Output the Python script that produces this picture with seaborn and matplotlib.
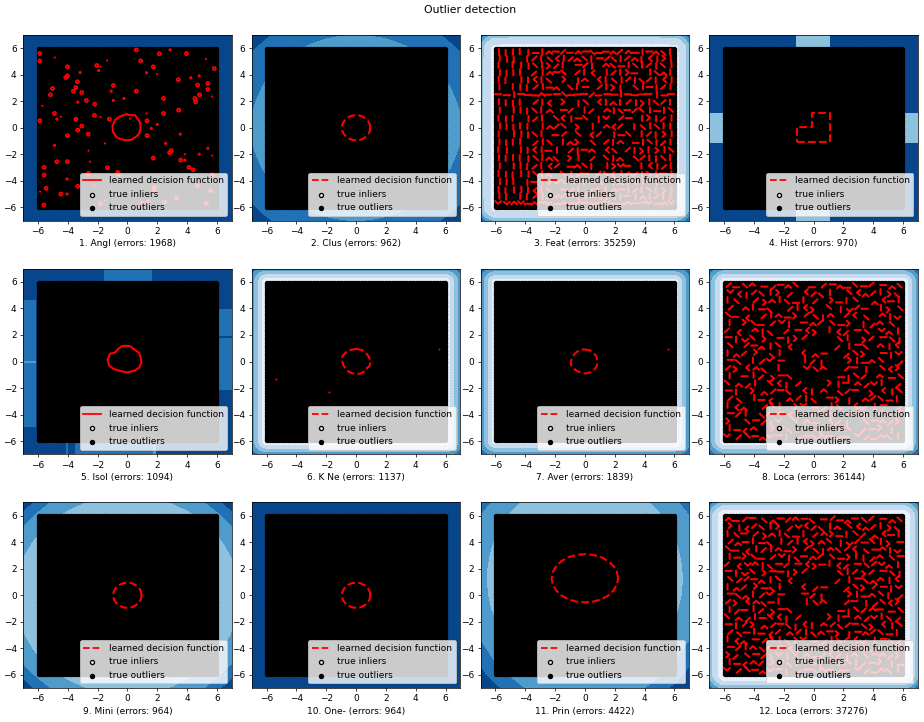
import numpy as np
import matplotlib
matplotlib.use('Agg')
import matplotlib.pyplot as plt
from matplotlib.lines import Line2D
import seaborn as sns

labels = ['1. Angl (errors: 1968)', '2. Clus (errors: 962)', '3. Feat (errors: 35259)', '4. Hist (errors: 970)',
          '5. Isol (errors: 1094)', '6. K Ne (errors: 1137)', '7. Aver (errors: 1839)', '8. Loca (errors: 36144)',
          '9. Mini (errors: 964)', '10. One- (errors: 964)', '11. Prin (errors: 4422)', '12. Loca (errors: 37276)']
solid_panels = [0, 4]
legend_labels = ['learned decision function', 'true inliers', 'true outliers']
tick_values = [-6, -4, -2, 0, 2, 4, 6]

# outliers fill the square, inliers sit in the middle
outlier_axis = [-5.95, -5.8, -5.6, -5.4, -5.2, -5.0, -4.8, -4.6, -4.4, -4.2, -4.0, -3.8, -3.6, -3.4, -3.2, -3.0, -2.8, -2.6, -2.4, -2.2,
                -2.0, -1.8, -1.6, -1.4, -1.2, -1.0, -0.8, -0.6, -0.4, -0.2, 0.0, 0.2, 0.4, 0.6, 0.8, 1.0, 1.2, 1.4, 1.6, 1.8,
                2.0, 2.2, 2.4, 2.6, 2.8, 3.0, 3.2, 3.4, 3.6, 3.8, 4.0, 4.2, 4.4, 4.6, 4.8, 5.0, 5.2, 5.4, 5.6, 5.8, 5.95]
inlier_x = [0.0, 0.4, -0.4, 0.2, -0.2]
inlier_y = [0.0, 0.3, -0.3, -0.5, 0.5]

# decision outlines
circle_x = [.95, .92, .82, .67, .47, .25, 0, -.25, -.47, -.67, -.82, -.92, -.95, -.92, -.82, -.67, -.47, -.25, 0, .25, .47, .67, .82, .92, .95]
circle_y = [0, .25, .47, .67, .82, .92, .95, .92, .82, .67, .47, .25, 0, -.25, -.47, -.67, -.82, -.92, -.95, -.92, -.82, -.67, -.47, -.25, 0]
angl_x = [-.09, .18, .51, .67, .85, .89, .80, .63, .29, -.09, -.49, -.76, -.96, -1.0, -.83, -.54, -.27, -.09]
angl_y = [1.03, .95, .95, .70, .40, 0, -.43, -.63, -.90, -.95, -.85, -.68, -.30, .15, .58, .83, .95, 1.03]
hist_x = [-1.12, 1.07, 1.07, -.11, -.11, -1.12, -1.12]
hist_y = [-1.06, -1.06, 1.08, 1.08, .08, .08, -1.06]
isol_x = [-.13, .18, .51, .80, .89, .94, .80, .51, 0, -.49, -.94, -1.23, -1.32, -1.16, -.83, -.60, -.38, -.13]
isol_y = [1.18, 1.16, .88, .63, .30, -.08, -.45, -.68, -.83, -.71, -.55, -.30, .13, .58, .68, .96, 1.16, 1.18]
knn_x = [0, .35, .65, .85, .98, .9, .72, .62, .3, 0, -.3, -.62, -.85, -.95, -.9, -.65, -.35, 0]
knn_y = [.95, .88, .68, .35, .02, -.35, -.5, -.72, -.9, -.95, -.88, -.68, -.3, .1, .45, .72, .88, .95]
aver_x = [-.05, .3, .6, .78, .85, .8, .65, .4, .1, -.2, -.55, -.8, -.95, -.9, -.75, -.55, -.3, -.05]
aver_y = [.92, .85, .65, .35, 0, -.35, -.6, -.8, -.9, -.88, -.7, -.5, -.2, .15, .5, .72, .88, .92]
prin_x = [2.23, 2.15, 1.93, 1.58, 1.12, .58, 0, -.58, -1.12, -1.58, -1.93, -2.15, -2.23, -2.15, -1.93, -1.58, -1.12, -.58, 0, .58, 1.12, 1.58, 1.93, 2.15, 2.23]
prin_y = [1.28, 1.75, 2.19, 2.57, 2.86, 3.04, 3.10, 3.04, 2.86, 2.57, 2.19, 1.75, 1.28, .81, .37, -.01, -.30, -.48, -.54, -.48, -.30, -.01, .37, .81, 1.28]
outlines = {0: (angl_x, angl_y), 1: (circle_x, circle_y), 3: (hist_x, hist_y), 4: (isol_x, isol_y), 5: (knn_x, knn_y),
            6: (aver_x, aver_y), 8: (circle_x, circle_y), 9: (circle_x, circle_y), 10: (prin_x, prin_y)}

# red spots of panel 1, three sizes
big_x = [-5.87, -5.87, .60, -4.02, -2.05, .89, 2.14, 3.97, 1.74, 5.83, -4.13, -4.02, -3.35, 3.42, -.94, -3.46, -3.62, -3.06, -5.02, -5.16,
         .60, 2.43, 4.53, 4.58, 4.84, 5.40, 5.40, 4.71, -2.75, -2.19, 3.44, 2.43, -4.89, -2.21, -1.21, -3.46, -5.87, 1.32, -3.06, -3.33,
         -2.63, -4.02, 1.32, 2.95, 2.83, 1.74, -4.73, -4.02, 3.57, -5.58, -1.34, 4.13, 4.42, -5.58, -2.61, -.65, -5.45, -4.46, -3.33, -5.6,
         -1.8, 3.3, 2.5, 1.8, 1.8, 5.6, 5.3, 1.0, 1.4, -.6, 4.7, 5.7]
big_y = [5.60, 5.03, 5.88, 4.60, 4.70, 5.05, 5.58, 5.60, 4.60, 4.47, 3.79, 3.92, 3.47, 3.62, 3.19, 3.04, 2.76, 2.66, 2.96, 2.49,
         2.76, 2.21, 2.21, 1.96, 2.49, 2.89, 3.34, 3.22, 2.06, 1.78, 1.33, 1.08, 1.08, .93, .65, .65, .53, .53, .13, -.18,
         -.48, -.60, -.60, -1.73, -1.88, -2.29, -2.56, -2.56, -2.44, -2.99, -3.02, -2.99, -3.17, -3.57, -3.44, -3.37, -4.57, -5.0, -4.42, -5.83,
         -5.72, -5.3, -5.6, -4.5, -4.8, -4.75, -5.7, -5.7, -5.6, -3.5, -4.4, -3.55]
mid_x = [2.86, -1.92, 1.29, -3.17, 4.26, 4.82, -1.09, -.22, -.94, -3.33, -4.73, 2.0, 1.61, 3.55, -4.89, 2.57, 4.82, 5.4, 3.86, -4.04, -4.04]
mid_y = [5.88, 4.32, 4.15, 4.17, 3.77, 3.92, 2.76, 2.21, 2.06, 1.93, .65, .25, -.05, -.48, -1.33, -1.18, -2.0, -1.56, -2.44, -3.87, -5.0]
small_x = [-4.87, -1.36, 5.27, -1.79, 2.0, -5.71, 5.67, 1.29, -4.46, -1.79, .18, -1.5, -2.61, 3.86, 5.69, -2.5, -5.85, -2.25, -1.5]
small_y = [5.3, 5.08, 5.18, 4.6, 4.05, 1.66, 2.36, 1.08, .83, .8, .7, -1.18, -1.73, -2.0, -2.1, -2.56, -4.82, -4.4, -5.5]
spots6_x = [5.55, -5.35, -1.8]
spots6_y = [.95, -1.3, -2.3]
spots7_x = [5.6]
spots7_y = [.95]

# short red strokes of panels 3, 8, 12, top row first, one letter per stroke
# h flat, v upright, a rising, d falling, c e u n bent, . nothing
stroke_axis = [-5.7, -5.13, -4.56, -3.99, -3.42, -2.85, -2.28, -1.71, -1.14, -.57, 0, .57, 1.14, 1.71, 2.28, 2.85, 3.42, 3.99, 4.56, 5.13, 5.7]
feat_x_axis = [-5.76, -5.28, -4.8, -4.32, -3.84, -3.36, -2.88, -2.4, -1.92, -1.44, -.96, -.48, 0, .48, .96, 1.44, 1.92, 2.4, 2.88, 3.36, 3.84, 4.32, 4.8, 5.28, 5.76]
feat_y_axis = [5.7, 5.2, 4.7, 4.15, 3.6, 3.05, 2.5, 1.9, 1.3, .7, .1, -.5, -1.1, -1.7, -2.3, -2.9, -3.5, -4.1, -4.7, -5.2, -5.7]
feat_rows = ["vvvvvhvnhahnhdhhnanhvhndv", "vvv.vavdcvandvhadvanvcvev", "v.vvvdveav.hav.ndhvdvavdv",
             "vvvv.avnhd.avc.vaveh.vdnv", "vv.vvcvd.e.vn.cvdvavdavcv", "v.vvvavhn.dvh.avev.dvhvav",
             "hhvhhhnhhdhhhahhhvhhhhvhh", "vvvv.avc.e.vd.cvnvavevdav", "v.vvvdvn.ha.va.nvdhadvhvd",
             "vvv.vav.dcvhd.vu.ah.vevav", "vvvvv.vnad.e.v.nca.vdvdvv", "v.vvvdv.ha.d.ca.vhd.vavev",
             "vvvv.avd.vne.d.avn.hvdvav", "vv.vvcvhv.avhn.cd.avevevd", "vvvvvdvnd.ev.a.dvn.davvdv",
             "v.vvvavca.hndv.veuh.vcvav", "vvvvvdvn.dvah.adcvnavdvhv", "vvv.vhvaud.nvhd.vnvdvhvav",
             "vvvvvcvd.hav.aevnhvavdvev", "vv.vvavnuahdvhcvdvhvnvavv", "uunuhnhuhnhahnhuhhnhhuhnu"]
loca8_rows = ["ahdnhahnd.hahnhdhahnd", "ucvadvea.cadv.dcnaved", "vd.aenvdhva.ehvd.nchv",
              "a.nvhd.avce.dvuah.ved", "dhc.avnheadvn.acd.nvu", "v.edhauv.hnadhe.vand.",
              "ac.nvd.ahce.vcahd.unv", "hvude.hvea...dv.eahdv", "d.ahnvdc.....avhd.nvc",
              "vnae.dv..cnh..ade.hvu", "hd.vauh..vav..evhnd.a", "aecnd.v..udn..ahv.dce",
              "v.hvaehd.....hvda.nhd", "dnav.dcva...evhnauv.a", "hv.enahd.cvn.dah.ecvd",
              "ad.vhc.navd.hev.nadhv", "vcn.adv.euhavd.cuvh.a", "hav.dnhcv.adn.hve.adv",
              "e.dhavu.dnh.cav.dhnae", "vhcn.eadv.hvund.ahev.", "uadhnuhvahdnhahuahndv"]
loca12_rows = ["nhahdnhanhdhahnhdahnd", "evcadveaucadvndcnaved", "vdhaenvdhvanehvdanchv",
               "anhvhdvavcendvuahdveh", "dhcvavnheadvndacdhnvu", "vhedhauvdhnadhevvandh",
               "acunvdhahcehvcahdaunv", "hvudehhvea...dvaeahdv", "daahnvdc.....avhdnnvc",
               "vnaehdv..cah..adeahvu", "hdnvauh..hav..evhndva", "aecndhv..vdn..ahvadce",
               "vahvaehd.....hvdanhhd", "dnavhdcva...evhnauvda", "hvaenahdvcvnadahdecvd",
               "adhvhcanavdnhevhnadhv", "vcnhadvdeuhavdacuvhda", "havndnhcvaadnahveaadv",
               "eadhavuvdnhacavndhnae", "vhcnaeadvdhvundvahevh", "uadhnuhvahdnhahuahndv"]
stroke_fields = {2: (feat_x_axis, feat_y_axis, feat_rows), 7: (stroke_axis, stroke_axis[::-1], loca8_rows),
                 11: (stroke_axis, stroke_axis[::-1], loca12_rows)}
stroke_shapes = {'h': ([-.21, .21], [0, 0]), 'v': ([0, 0], [-.21, .21]), 'a': ([-.15, .15], [-.15, .15]), 'd': ([-.15, .15], [.15, -.15]),
                 'c': ([.12, -.08, .12], [.2, 0, -.2]), 'e': ([-.12, .08, -.12], [.2, 0, -.2]),
                 'u': ([-.2, 0, .2], [.12, -.08, .12]), 'n': ([-.2, 0, .2], [-.12, .08, -.12])}
# small offsets so the strokes do not sit on a visible lattice
nudge_x = [0, .16, -.11, .2, -.06, .09, -.17]
nudge_y = [.1, -.14, .04, .18, -.07, -.19, .13, -.02, .15]

# background band values, one quadrant for the round ones (x, y = 0..7)
round_axis = [0, 1, 2, 3, 4, 5, 6, 7]
clus_quad = [[3, 3, 3, 3, 3, 3, 2.5, 2.02], [3, 3, 3, 3, 3, 3, 2.46, 2.02], [3, 3, 3, 3, 3, 3, 2.34, 1.86],
             [3, 3, 3, 3, 3, 3, 2.15, 1.69], [3, 3, 3, 3, 3, 2.3, 1.9, 1.47], [3, 3, 3, 3, 2.3, 2, 1.6, 1.2],
             [2.5, 2.46, 2.34, 2.15, 1.9, 1.6, 1.26, .89], [2.02, 1.96, 1.86, 1.69, 1.47, 1.2, .89, .55]]
mini_quad = [[3.9, 3.9, 3.9, 3.9, 3.9, 3.9, 3.9, 3.4], [3.9, 3.9, 3.9, 3.9, 3.9, 3.9, 3.9, 3.34],
             [3.9, 3.9, 3.9, 3.9, 3.9, 3.9, 3.9, 3.18], [3.9, 3.9, 3.9, 3.9, 3.9, 3.9, 3.63, 2.9],
             [3.9, 3.9, 3.9, 3.9, 3.9, 3.9, 3.23, 2.55], [3.9, 3.9, 3.9, 3.9, 3.9, 3.4, 2.75, 2.12],
             [3.9, 3.9, 3.9, 3.63, 3.23, 2.75, 2.21, 1.28], [3.4, 3.34, 3.18, 2.9, 2.55, 2.12, 1.28, .23]]
# panel 11 is off centre in y, so all rows y = -7..7 and half the columns
prin_y_axis = [-7, -6, -5, -4, -3, -2, -1, 0, 1, 2, 3, 4, 5, 6, 7]
prin_half = [[2.68, 2.64, 2.5, 2.29, 2.0, 1.31, .81, .47], [3.22, 3.18, 3.03, 2.79, 2.47, 2.09, 1.33, .76],
             [3.9, 3.9, 3.9, 3.9, 3.5, 3.0, 2.04, 1.1], [3.9, 3.9, 3.9, 3.9, 3.9, 3.4, 2.39, 1.72],
             [3.9, 3.9, 3.9, 3.9, 3.9, 3.9, 2.7, 2.14], [3.9, 3.9, 3.9, 3.9, 3.9, 3.9, 2.96, 2.37],
             [3.9, 3.9, 3.9, 3.9, 3.9, 3.9, 3.15, 2.54], [3.9, 3.9, 3.9, 3.9, 3.9, 3.9, 3.28, 2.66],
             [3.9, 3.9, 3.9, 3.9, 3.9, 3.9, 3.33, 2.71], [3.9, 3.9, 3.9, 3.9, 3.9, 3.9, 3.32, 2.69],
             [3.9, 3.9, 3.9, 3.9, 3.9, 3.9, 3.22, 2.6], [3.9, 3.9, 3.9, 3.9, 3.9, 3.9, 3.07, 2.46],
             [3.9, 3.9, 3.9, 3.9, 3.9, 3.5, 2.84, 2.26], [3.9, 3.9, 3.9, 3.9, 3.5, 3.07, 2.55, 2.0],
             [3.9, 3.9, 3.76, 3.49, 3.14, 2.71, 2.22, 1.42]]

# rim quadrant for the squarish ones (x, y = 5, 6.1, 6.4, 6.7, 7)
rim_axis = [5, 6.1, 6.4, 6.7, 7]
feat_rim = [[5.8, 5.4, 4.7, 4.3, 3.1], [5.4, 5.3, 4.6, 4.2, 3.0], [4.7, 4.6, 4.3, 3.8, 2.6], [4.3, 4.2, 3.8, 3.0, 1.8], [3.1, 3.0, 2.6, 1.8, .9]]
knn_rim = [[5.9, 5.6, 4.5, 3.4, 2.3], [5.6, 5.6, 4.5, 3.4, 2.3], [4.5, 4.5, 4.0, 3.1, 2.1], [3.4, 3.4, 3.1, 2.5, 1.6], [2.3, 2.3, 2.1, 1.6, .9]]
aver_rim = [[5.8, 5.3, 4.3, 3.2, 2.2], [5.3, 5.3, 4.3, 3.2, 2.2], [4.3, 4.3, 3.8, 2.9, 1.9], [3.2, 3.2, 2.9, 2.3, 1.5], [2.2, 2.2, 1.9, 1.5, .7]]
loca8_rim = [[5.9, 5.5, 4.6, 3.5, 2.4], [5.5, 5.5, 4.6, 3.5, 2.4], [4.6, 4.6, 4.0, 3.1, 2.1], [3.5, 3.5, 3.1, 2.4, 1.5], [2.4, 2.4, 2.1, 1.5, .8]]
loca12_rim = [[5.9, 5.8, 5.0, 4.2, 3.2], [5.8, 5.8, 5.0, 4.2, 3.2], [5.0, 5.0, 4.5, 3.7, 2.7], [4.2, 4.2, 3.7, 3.0, 2.0], [3.2, 3.2, 2.7, 2.0, 1.2]]
rim_fields = {2: feat_rim, 5: knn_rim, 6: aver_rim, 7: loca8_rim, 11: loca12_rim}

# blocky backgrounds
hist_xe = [-7, -6.1, -1.2, 1.1, 6.1, 7]
hist_ye = [-7, -6.1, -1.12, 1.1, 6.1, 7]
hist_cells = [[.5, .5, 3.5, .5, .5], [.5, .5, .5, .5, .5], [3.5, .5, .5, .5, 3.5], [.5, .5, .5, .5, .5], [.5, .5, 3.5, .5, .5]]
isol_xe = [-7, -6.1, -4.1, -4.0, -3.5, -1.56, 1.63, 1.75, 1.95, 6.1, 7]
isol_ye = [-7, -6.1, -4.91, -2.14, -.12, .05, 1.76, 1.89, 3.95, 4.66, 6.1, 7]
isol_cells = [[.5, .5, 1.5, .5, 1.5, 1.5, 1.5, 2.5, .5, .5],
              [.5, .5, .5, .5, .5, .5, .5, .5, .5, .5],
              [1.5, .5, .5, .5, .5, .5, .5, .5, .5, .5],
              [1.5, .5, .5, .5, .5, .5, .5, .5, .5, 1.5],
              [2.5, .5, .5, .5, .5, .5, .5, .5, .5, 1.5],
              [1.5, .5, .5, .5, .5, .5, .5, .5, .5, 1.5],
              [1.5, .5, .5, .5, .5, .5, .5, .5, .5, .5],
              [1.5, .5, .5, .5, .5, .5, .5, .5, .5, 1.5],
              [1.5, .5, .5, .5, .5, .5, .5, .5, .5, .5],
              [.5, .5, .5, .5, .5, .5, .5, .5, .5, .5],
              [.5, .5, .5, .5, .5, 1.5, .5, .5, .5, .5]]
plain_edges = [-7, 7]
plain_cells = [[.5]]
band_levels = [0, 1, 2, 3, 4, 5, 6]


def mirror(values, both=True):
    z = np.asarray(values, dtype=float)
    z = np.hstack([z[:, :0:-1], z])
    if both:
        z = np.vstack([z[:0:-1], z])
    return z


def mirror_axis(nodes):
    nodes = np.asarray(nodes, dtype=float)
    return np.concatenate([-nodes[::-1], nodes]) if nodes[0] != 0 else np.concatenate([-nodes[:0:-1], nodes])


def stroke_path(xs, ys, rows, scale):
    # one long path, strokes split by nan
    px, py = [], []
    for i, row in enumerate(rows):
        for j, ch in enumerate(row):
            if ch == '.':
                continue
            dx, dy = stroke_shapes[ch]
            x0 = xs[j] + scale * nudge_x[(i + 2 * j) % 7]
            y0 = ys[i] + scale * nudge_y[(3 * i + j) % 9]
            px += [x0 + v for v in dx] + [np.nan]
            py += [y0 + v for v in dy] + [np.nan]
    return px, py


fig, axes = plt.subplots(3, 4, figsize=(924 / 65, 722 / 65), dpi=65)
fig.subplots_adjust(left=23 / 924, right=918 / 924, top=1 - 35 / 722, bottom=1 - 688 / 722, wspace=0.096, hspace=0.26)
fig.suptitle('Outlier detection', x=0.509, y=0.993)

xx, yy = np.meshgrid(outlier_axis, outlier_axis)

for i, ax in enumerate(axes.ravel()):
    # background
    if i in (0, 9):
        ax.pcolormesh(plain_edges, plain_edges, plain_cells, cmap='Blues_r', vmin=0, vmax=6)
    elif i == 3:
        ax.pcolormesh(hist_xe, hist_ye, hist_cells, cmap='Blues_r', vmin=0, vmax=6)
    elif i == 4:
        ax.pcolormesh(isol_xe, isol_ye, isol_cells, cmap='Blues_r', vmin=0, vmax=6)
    elif i == 1 or i == 8:
        quad = clus_quad if i == 1 else mini_quad
        ax.contourf(mirror_axis(round_axis), mirror_axis(round_axis), mirror(quad), levels=band_levels, cmap='Blues_r')
    elif i == 10:
        ax.contourf(mirror_axis(round_axis), prin_y_axis, mirror(prin_half, both=False), levels=band_levels, cmap='Blues_r')
    else:
        rim = np.asarray(rim_fields[i], dtype=float)
        z = np.hstack([rim[:, ::-1], rim])
        z = np.vstack([z[::-1], z])
        ax.contourf(mirror_axis(rim_axis), mirror_axis(rim_axis), z, levels=band_levels, cmap='Blues_r')

    # points
    sns.scatterplot(x=inlier_x, y=inlier_y, color='white', s=20, edgecolor='k', linewidth=1.5, ax=ax, legend=False, zorder=1)
    inlier_pts = ax.collections[-1]
    sns.scatterplot(x=xx.ravel(), y=yy.ravel(), color='black', s=20, edgecolor='k', linewidth=1.5, ax=ax, legend=False, zorder=1)
    outlier_pts = ax.collections[-1]

    # decision boundary
    ls = '-' if i in solid_panels else '--'
    if i in outlines:
        ox, oy = outlines[i]
        sns.lineplot(x=ox, y=oy, sort=False, estimator=None, color='red', linewidth=2.3, linestyle=ls, ax=ax, zorder=3)
    if i in stroke_fields:
        sx_axis, sy_axis, rows = stroke_fields[i]
        px, py = stroke_path(sx_axis, sy_axis, rows, 0.3 if i == 2 else 0.7)
        ax.plot(px, py, color='red', linewidth=2.3, solid_capstyle='round', zorder=3)
    if i == 0:
        for sx, sy, size, lw in [(big_x, big_y, 11, 2), (mid_x, mid_y, 4, 1.5), (small_x, small_y, 2, 1)]:
            sns.scatterplot(x=sx, y=sy, color='red', s=size, edgecolor='red', linewidth=lw, ax=ax, legend=False, zorder=3)
            ax.collections[-1].set_facecolor('none')
    if i == 5 or i == 6:
        sx, sy = (spots6_x, spots6_y) if i == 5 else (spots7_x, spots7_y)
        sns.scatterplot(x=sx, y=sy, color='red', s=2.5, edgecolor='red', linewidth=.5, ax=ax, legend=False, zorder=3)

    line = Line2D([], [], color='red', linewidth=2, linestyle=ls)
    ax.legend([line, inlier_pts, outlier_pts], legend_labels, loc='lower right', prop={'size': 10})
    ax.set_xlim(-7, 7)
    ax.set_ylim(-7, 7)
    ax.set_xticks(tick_values)
    ax.set_yticks(tick_values)
    ax.set_xlabel(labels[i], fontsize=10)
    ax.set_ylabel('')

fig.savefig('out.png', dpi=65)
